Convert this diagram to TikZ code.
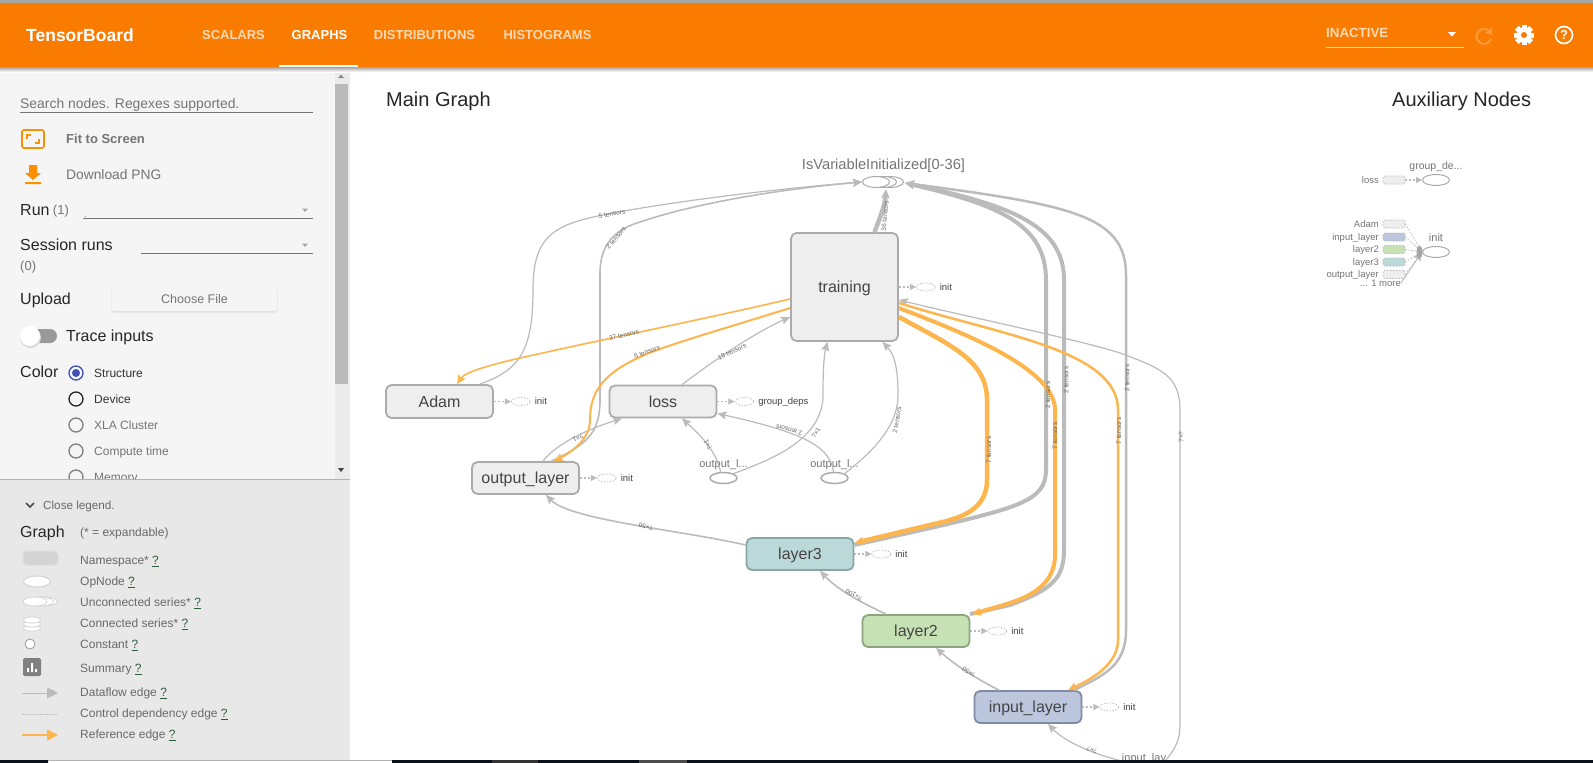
\documentclass[tikz,border=0pt]{standalone}
\usepackage{fontspec}
\setmainfont{Liberation Sans}
\usetikzlibrary{arrows.meta,positioning,shapes.geometric}

\newcommand{\pxfont}[1]{\fontsize{#1}{#1}\selectfont}
\definecolor{tborange}{HTML}{F97C00}
\definecolor{tbpeach}{HTML}{FFD9B3}
\definecolor{tbfaint}{HTML}{FB9A3C}
\definecolor{sidebg}{HTML}{F5F5F5}
\definecolor{legendbg}{HTML}{E8E8E8}
\definecolor{flowgray}{HTML}{BBBBBB}
\definecolor{refyellow}{HTML}{FDB54E}
\definecolor{nodegray}{HTML}{EEEEEE}
\definecolor{nodeedge}{HTML}{ABABAB}
\definecolor{textgray}{HTML}{757575}
\definecolor{darktext}{HTML}{444444}
\definecolor{barnavy}{HTML}{0A1018}
\definecolor{linkgreen}{HTML}{2B5D3C}
\definecolor{radioblue}{HTML}{3F51B5}
\definecolor{tealfill}{HTML}{BCD9DA}
\definecolor{tealedge}{HTML}{8AA5A6}
\definecolor{greenfill}{HTML}{C6E2B5}
\definecolor{greenedge}{HTML}{8DA57E}
\definecolor{bluefill}{HTML}{BCC7DE}
\definecolor{blueedge}{HTML}{7F8AA3}

\tikzset{
  txt/.code={\pgfmathsetlengthmacro\txtheight{.72*#1}%
    \tikzset{inner sep=0pt,text height=\txtheight,text depth=0pt,font=\pxfont{#1}}},
  side/.style={txt=#1,anchor=west,text=textgray},
  sideblack/.style={txt=#1,anchor=west,text=black!85},
  tab/.style={txt=13,text=tbpeach},
  namespace/.style={draw=nodeedge,fill=nodegray,line width=1.8pt,rounded corners=5.5pt,
    minimum width=107pt,minimum height=32pt,txt=16,text=darktext},
  opnode/.style={ellipse,draw=nodeedge,fill=white,line width=1.5pt,
    minimum width=27pt,minimum height=11pt,inner sep=0pt},
  oplabel/.style={txt=11,text=textgray},
  auxop/.style={ellipse,draw=flowgray,dash pattern=on 1.5pt off 1.5pt,line width=.7pt,
    minimum width=19pt,minimum height=8pt,inner sep=0pt},
  auxlabel/.style={txt=9.5,text=darktext,anchor=west},
  auxbox/.style={draw=flowgray,dash pattern=on 1.5pt off 1.5pt,line width=.7pt,rounded corners=1.5pt,
    minimum width=22pt,minimum height=8pt,inner sep=0pt},
  auxname/.style={txt=9.5,text=textgray,anchor=east},
  ctrledge/.style={draw=flowgray,dash pattern=on 2pt off 2pt,line width=1.2pt,-{Stealth[length=6pt,width=6pt,inset=0pt]}},
  ctrlthin/.style={draw=flowgray,dash pattern=on 1.5pt off 1.5pt,line width=.8pt},
  edgeflow/.style={draw=flowgray,line width=#1,-{Stealth[length=9pt,width=8pt,inset=1.5pt]}},
  edgeflow/.default=1.2pt,
  edgeref/.style={draw=refyellow,line width=#1,-{Stealth[length=9pt,width=8pt,inset=1.5pt]}},
  edgeref/.default=1.2pt,
  edgelabel/.style={inner sep=0pt,font=\pxfont{6.5},text=black!60},
  radio/.style={circle,draw=#1,line width=1.3pt,minimum size=14pt,inner sep=0pt},
  legendtext/.style={txt=12,anchor=west,text=textgray!90!black},
}

\begin{document}
\begin{tikzpicture}[x=1pt,y=-1pt]
\useasboundingbox (0,0) rectangle (1593,763);
\fill[white] (0,0) rectangle (1593,763);

% main graph
\node[txt=20,anchor=west,text=black!85] (maingraph) at (386,99) {Main Graph};
\node[txt=20,anchor=west,text=black!85] (auxnodes) at (1392,99) {Auxiliary Nodes};

\node[namespace] (training) at (844.5,287) [minimum height=108pt] {training};
\node[namespace] (adam) at (439.5,401.5) [minimum height=33pt] {Adam};
\node[namespace] (loss) at (663,401.5) {loss};
\node[namespace] (outputlayer) at (525.5,478) {output\_layer};
\node[namespace,fill=tealfill,draw=tealedge] (layerthree) at (800,554) {layer3};
\node[namespace,fill=greenfill,draw=greenedge] (layertwo) at (916,631) {layer2};
\node[namespace,fill=bluefill,draw=blueedge] (inputlayer) at (1028,707) {input\_layer};

\foreach \off in {14,7} \node[opnode,line width=1pt] (isvar\off) at (876+\off,182) {};
\node[opnode,line width=1pt] (isvar) at (876,182) {};
\node[oplabel,txt=14.7] (isvarlabel) at (883.5,164) {IsVariableInitialized[0-36]};
\node[opnode] (outputone) at (723.5,478) {};
\node[oplabel] (outputonelabel) at (723.5,464) {output\_l...};
\node[opnode] (outputtwo) at (834.5,478) {};
\node[oplabel] (outputtwolabel) at (834.5,464) {output\_l...};
\node[oplabel] (inputlay) at (1144,758) {input\_lay};
\coordinate (inputlayout) at (1126,762);

% side ops of the namespaces
\foreach \n/\t in {training/init,adam/init,loss/group\_deps,outputlayer/init,layerthree/init,layertwo/init,inputlayer/init} {
  \node[auxop,right=17pt of \n.east] (\n-op) {};
  \node[auxlabel,right=4pt of \n-op] (\n-oplabel) {\t};
  \draw[ctrledge] (\n.east) -- (\n-op.west);
}

% dataflow edges
\draw[edgeflow] ([xshift=40.5pt]adam.north) .. controls (520,370) and (533,350) .. (533,290)
  .. controls (533,240) and (550,226) .. (598,216) .. controls (650,205) and (760,190) .. (isvar.west);
\draw[edgeflow=1.6pt] ([xshift=26pt]outputlayer.north) .. controls (585,445) and (600,435) .. (600,400)
  -- (600,273) .. controls (600,240) and (620,228) .. (640,222) .. controls (690,205) and (770,190) .. (isvar.west);
\draw[edgeflow] ([xshift=17.5pt]outputlayer.north) .. controls (555,445) and (585,430) .. ([xshift=-41pt]loss.south);
\draw[edgeflow] ([xshift=19pt]loss.north) .. controls (708,365) and (750,335) .. ([yshift=-30pt]training.west);
\draw[edgeflow] ([xshift=-3pt]outputone.north) .. controls (716,450) and (700,435) .. ([xshift=19pt]loss.south);
\draw[edgeflow] (outputone.north east) .. controls (770,460) and (823,440) .. (823,395)
  .. controls (823,370) and (824,355) .. ([xshift=-17pt]training.south);
\draw[edgeflow] ([xshift=-1pt]outputtwo.north) .. controls (830,445) and (800,432) .. ([yshift=-12pt]loss.east);
\draw[edgeflow] (outputtwo.north east) .. controls (875,450) and (898,425) .. (898,395)
  .. controls (898,370) and (895,355) .. ([xshift=38pt]training.south);
\draw[edgeflow=1.6pt] ([yshift=9pt]layerthree.west) .. controls (680,530) and (570,520) .. ([xshift=20.5pt]outputlayer.south);
\draw[edgeflow=1.6pt] ([xshift=-30pt]layertwo.north) .. controls (860,602) and (838,590) .. ([xshift=20pt]layerthree.south);
\draw[edgeflow=1.6pt] ([xshift=-29pt]inputlayer.north) .. controls (975,678) and (955,665) .. ([xshift=20pt]layertwo.south);
\draw[edgeflow] (inputlayout) .. controls (1095,755) and (1065,742) .. ([xshift=20pt]inputlayer.south);
\draw[edgeflow] (1164,762) .. controls (1175,750) and (1180,740) .. (1180,725) -- (1180,410)
  .. controls (1180,375) and (1160,368) .. (1120,353) .. controls (1080,340) and (960,315) .. ([yshift=-13pt]training.east);
\draw[edgeflow=4.5pt] ([xshift=30pt]training.north) .. controls (880,218) and (885,205) .. (886,189);
\draw[edgeflow=4pt] ([yshift=9pt]layerthree.east) -- (935,527) .. controls (1020,507) and (1046,500) .. (1046,470)
  -- (1046,280) .. controls (1046,225) and (1000,205) .. (905,183);
\draw[edgeflow=4pt] ([xshift=54pt]layertwo.north) -- (1010,605) .. controls (1050,590) and (1064,580) .. (1064,550)
  -- (1064,280) .. controls (1064,225) and (1010,205) .. (905,183);
\draw[edgeflow=2.5pt] ([xshift=46pt]inputlayer.north) .. controls (1105,675) and (1126,665) .. (1126,630)
  -- (1126,275) .. controls (1126,215) and (1070,205) .. (905,183);

% reference edges
\draw[edgeref=1.6pt] ([yshift=-12pt]training.west) .. controls (700,320) and (600,340) .. (520,358)
  .. controls (490,365) and (465,372) .. ([xshift=17.5pt]adam.north);
\draw[edgeref=2pt] ([yshift=-21pt]training.west) .. controls (720,330) and (660,347) .. (640,357)
  .. controls (600,375) and (590,395) .. (590,420) .. controls (590,440) and (570,453) .. ([xshift=28.5pt]outputlayer.north);
\draw[edgeref=4.5pt] ([yshift=-30pt]training.east) .. controls (950,345) and (987,360) .. (987,400)
  -- (987,480) .. controls (987,515) and (950,520) .. (930,525) -- ([yshift=11pt]layerthree.east);
\draw[edgeref=4pt] ([yshift=-21pt]training.east) .. controls (970,335) and (1055,370) .. (1055,410)
  -- (1055,555) .. controls (1055,590) and (1020,600) .. (1000,606) -- ([xshift=56pt]layertwo.north);
\draw[edgeref=2.5pt] ([yshift=-16pt]training.east) .. controls (1000,335) and (1118,350) .. (1118,410)
  -- (1118,640) .. controls (1118,665) and (1090,680) .. ([xshift=40pt]inputlayer.north);

% edge labels
\foreach \x/\y/\r/\t in {612/214/10/5 tensors,616/238/50/2 tensors,624/335/12/37 tensors,647/352/20/6 tensors,
  732/352/25/18 tensors,885/216/85/36 tensors,578/438/205/?×1,708/445/120/?×1,816/433/60/?×1,
  789/430/165/2 tensors,646/527/167/?×50,854/595/150/?×100,969/672/148/?×50,1092/750/160/?×?,
  1048/395/90/2 tensors,1066/380/90/2 tensors,1055/436/90/7 tensors,1119/431/90/7 tensors,
  1127/378/90/2 tensors,1181/437/90/?×?,989/450/90/7 tensors,897/420/80/2 tensors}
  \node[edgelabel,rotate=\r] at (\x,\y) {\t};

% auxiliary nodes
\node[opnode,line width=1pt] (groupdeps) at (1436,180) {};
\node[oplabel,txt=10.5] (groupdepslabel) at (1436,166) {group\_de...};
\node[auxbox,fill=nodegray] (lossbox) at (1394,180) {};
\node[auxname] (lossname) at (1379,180) {loss};
\draw[ctrledge] (lossbox.east) -- (groupdeps.west);
\node[opnode,line width=1pt] (initop) at (1436,252) {};
\node[oplabel] (initlabel) at (1436,238) {init};
\foreach \n/\y/\c/\t in {a/224/nodegray/Adam,b/237/bluefill/input\_layer,c/249.5/greenfill/layer2,d/262/tealfill/layer3,e/274.5/nodegray/output\_layer} {
  \node[auxbox,fill=\c] (aux\n) at (1394,\y) {};
  \node[auxname] (aux\n name) at (1379,\y) {\t};
  \draw[ctrlthin] (aux\n.east) -- (initop.west);
}
\node[auxname] (moreaux) at (1401,283) {... 1 more};
\draw[edgeflow=.9pt] (moreaux.east) -- (initop.west);
\fill[black!35] (1419.5,252) ellipse (3pt and 6.5pt);

% sidebar
\fill[sidebg] (0,68) rectangle (350,480);
\fill[sidebg!96!black] (335,70) rectangle (350,480);
\fill[flowgray] (335,84) rectangle (348,384);
\fill[black!45] (338,78) -- (341,74.5) -- (344,78) -- cycle;
\fill[black!75] (338,468) -- (341,472) -- (344,468) -- cycle;

\node[side=13.9] (search) at (20,103) {Search nodes. Regexes supported.};
\draw[black!55,line width=.8pt] (20,112.5) -- (313,112.5);
\draw[tborange!85!yellow,line width=1.6pt,rounded corners=2pt] (22,130) rectangle (44,148);
\draw[tborange!85!yellow,line width=1.4pt] (27,139) -- (27,135) -- (31,135) (39,139) -- (39,143) -- (35,143);
\node[side=13,font=\pxfont{13}\bfseries] (fit) at (66,139) {Fit to Screen};
\fill[tborange!85!yellow] (29,165) rectangle (37,173) (25,173) -- (41,173) -- (33,180) -- cycle (25,182) rectangle (41,184);
\node[side=13.8] (download) at (66,175) {Download PNG};
\node[sideblack=16] (run) at (20,210) {Run};
\node[side=13,right=3pt of run] (runcount) {(1)};
\node[side=9] (rundot) at (84,214) {.};
\draw[black!55,line width=.8pt] (83,218.5) -- (313,218.5);
\fill[black!35] (302,208.5) -- (308,208.5) -- (305,212) -- cycle;
\node[sideblack=16] (session) at (20,245) {Session runs};
\draw[black!55,line width=.8pt] (141,253.5) -- (313,253.5);
\fill[black!35] (302,243.5) -- (308,243.5) -- (305,247) -- cycle;
\node[side=13] (sessioncount) at (20,266) {(0)};
\node[sideblack=16] (upload) at (20,299) {Upload};
\fill[black!12,rounded corners=2pt] (111.5,287) rectangle (277.5,312.5);
\node[fill=sidebg,rounded corners=1.5pt,minimum width=165pt,minimum height=25pt,txt=12.5,
  text=textgray] (choosefile) at (194.5,298.5) {Choose File};
\fill[black!40,rounded corners=7pt] (30,329) rectangle (57,343);
\fill[black!15] (30.5,337.5) circle (10.5pt);
\node[circle,fill=white,minimum size=20pt,inner sep=0pt] (toggle) at (30,336) {};
\node[sideblack=16] (trace) at (66,336) {Trace inputs};
\node[sideblack=16] (color) at (20,372) {Color};
\node[radio=radioblue] (radioa) at (76,373) {};
\fill[radioblue] (radioa) circle (4pt);
\node[radio=black!85] (radiob) at (76,399) {};
\foreach \y/\n in {425/c,451/d,477/e} \node[radio=black!50] (radio\n) at (76,\y) {};
\foreach \y/\c/\t in {373/black!80/Structure,399/black!80/Device,425/textgray/XLA Cluster,451/textgray/Compute time,477/textgray/Memory}
  \node[txt=12,anchor=west,text=\c] at (94,\y) {\t};

% legend
\fill[legendbg] (0,480) rectangle (350,760);
\draw[black!30,line width=.7pt] (0,479.5) -- (350,479.5);
\draw[black!70,line width=1.5pt] (26,503) -- (30,507) -- (34,503);
\node[legendtext,txt=11.7] (closelegend) at (43,505) {Close legend.};
\node[sideblack=16] (graph) at (20,532) {Graph};
\node[legendtext] (expandable) at (80,532) {(* = expandable)};
\foreach \y/\t in {560/Namespace*,581/OpNode,602/Unconnected series*,623/Connected series*,644/Constant,
  668/Summary,692/Dataflow edge,713/Control dependency edge,734/Reference edge}
  \node[legendtext] at (80,\y) {\t{} {\color{linkgreen}\underline{?}}};
\draw[fill=black!17,draw=black!13,line width=1pt,rounded corners=4pt] (23,551) rectangle (58,565);
\draw[fill=white,draw=black!17,line width=1pt] (37,581.5) ellipse (13.5pt and 5.5pt);
\foreach \x in {44,40} \draw[fill=white,draw=black!17,line width=.8pt] (\x,601.5) ellipse (13.5pt and 4.5pt);
\draw[fill=white,draw=black!17,line width=.8pt] (35,601.5) ellipse (12pt and 4.5pt);
\foreach \y in {628,624,620} \draw[fill=white,draw=black!17,line width=.8pt] (32,\y) ellipse (8.5pt and 3.2pt);
\draw[fill=white,draw=black!40,line width=.8pt] (30,644) circle (5pt);
\fill[black!50,rounded corners=1.5pt] (23,658) rectangle (41,676);
\fill[white] (27,668) rectangle (29,672) (31,663) rectangle (33,672) (35,669) rectangle (37,672);
\draw[edgeflow=1pt,-{Stealth[length=11pt,width=11pt,inset=0pt]}] (22,693) -- (58,693);
\draw[ctrlthin,black!25] (22,714) -- (58,714);
\draw[edgeref=1.5pt,-{Stealth[length=11pt,width=11pt,inset=0pt]}] (22,735) -- (58,735);

% bottom strip
\fill[barnavy] (0,760) rectangle (48,763) (392,760) rectangle (1593,763);
\fill[black!80] (492,760) rectangle (538,763);
\fill[black!70] (639,760) rectangle (687,763);
\fill[black!30] (48,760) rectangle (392,761);

% header
\fill[black!35] (0,0) rectangle (1593,3);
\fill[tborange] (0,3) rectangle (1593,67);
\shade[top color=black!40,bottom color=white,opacity=.9] (0,67) rectangle (1593,72);
\node[txt=17.5,font=\pxfont{17.5}\bfseries,text=white,anchor=west] (tensorboard) at (26,35) {TensorBoard};
\foreach \x/\t in {233.5/SCALARS,424.5/DISTRIBUTIONS,547.5/HISTOGRAMS}
  \node[tab,font=\pxfont{13}\bfseries] at (\x,35) {\t};
\node[tab,font=\pxfont{13}\bfseries,text=white] (graphstab) at (319.5,35) {GRAPHS};
\fill[white] (279,65) rectangle (358,67);
\node[tab,font=\pxfont{13.3}\bfseries,anchor=west] (inactive) at (1326,33) {INACTIVE};
\draw[tbpeach,line width=.8pt] (1326,47.5) -- (1464,47.5);
\fill[white] (1448,32) -- (1456,32) -- (1452,36.5) -- cycle;
\draw[tbfaint,line width=2pt] (1491,39) arc (-20:-300:7.5pt);
\fill[tbfaint] (1492,27) -- (1492,35) -- (1485,33) -- cycle;
\foreach \a in {0,45,...,315} \fill[white,rotate around={\a:(1524,35)}] (1521.5,25) rectangle (1526.5,45);
\fill[white] (1524,35) circle (7.5pt);
\fill[tborange] (1524,35) circle (3pt);
\node[circle,draw=white,line width=1.7pt,minimum size=17pt,inner sep=0pt,text=white,
  font=\pxfont{13}\bfseries] (help) at (1564,35) {?};
\end{tikzpicture}
\end{document}
